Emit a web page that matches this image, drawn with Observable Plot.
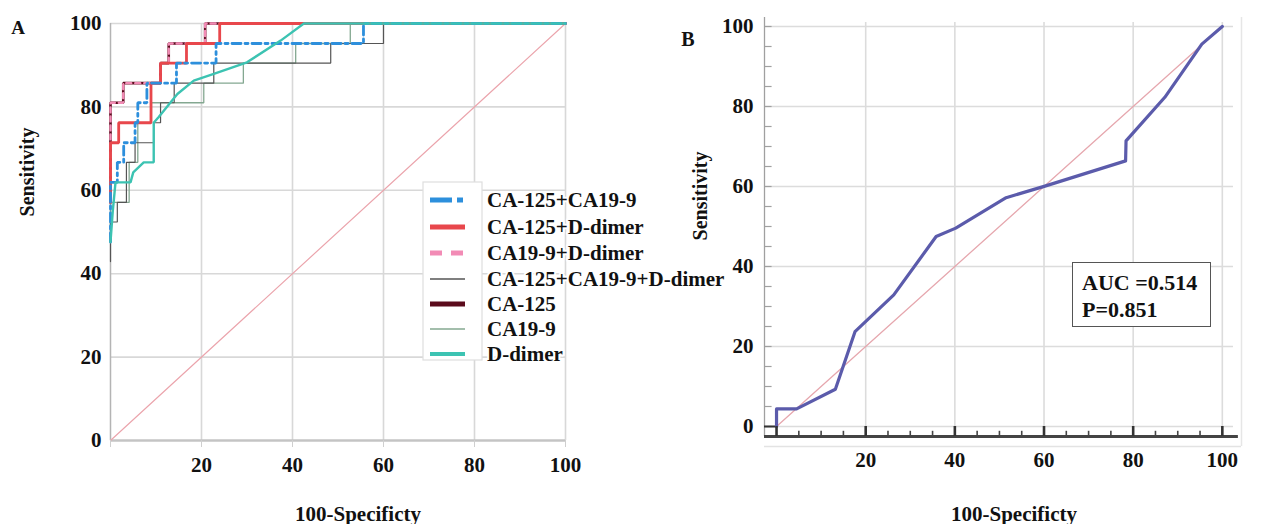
<!DOCTYPE html>
<html><head><meta charset="utf-8">
<script src="https://cdn.jsdelivr.net/npm/d3@7"></script>
<script src="https://cdn.jsdelivr.net/npm/@observablehq/plot@0.6"></script>
<style>
html,body{margin:0;padding:0;background:#fff;}
#wrap{position:relative;width:1269px;height:524px;overflow:hidden;background:#fff;
  font-family:"Liberation Serif","Times New Roman",serif;font-weight:bold;color:#111;}
.abs{position:absolute;white-space:nowrap;line-height:1;}
.rot{transform:translate(-50%,-50%) rotate(-90deg);}
.ctr{transform:translate(-50%,-50%);}
#wrap svg text{font-family:"Liberation Serif","Times New Roman",serif !important;font-weight:bold;}
</style></head><body>
<div id="wrap"></div>
<script>
// ---------- DATA ----------
const seriesNames = ["CA-125+CA19-9","CA-125+D-dimer","CA19-9+D-dimer","CA-125+CA19-9+D-dimer","CA-125","CA19-9","D-dimer"];
// Panel A ROC curves: [100-specificity, sensitivity]
const ca125_ca199 = [[0,47.6],[0,61.9],[1.5,61.9],[1.5,66.7],[2.9,66.7],[2.9,71.4],[5.4,71.4],[5.4,76.2],[6.0,76.2],[6.0,81.0],[8.0,81.0],[8.0,85.7],[14.5,85.7],[14.5,90.5],[23.2,90.5],[23.2,95.2],[55.6,95.2],[55.6,100],[100,100]];
const ca125_ddimer = [[0,57.1],[0,71.4],[1.8,71.4],[1.8,76.2],[8.9,76.2],[8.9,85.7],[11.0,85.7],[11.0,90.5],[16.7,90.5],[16.7,95.2],[24.0,95.2],[24.0,100],[100,100]];
const ca199_ddimer = [[0,57.1],[0,81.0],[2.8,81.0],[2.8,85.7],[11.0,85.7],[11.0,90.5],[12.8,90.5],[12.8,95.2],[20.8,95.2],[20.8,100],[100,100]];
const ca125_ca199_ddimer = [[0,42.9],[0,52.4],[1.5,52.4],[1.5,57.1],[3.5,57.1],[3.5,66.7],[5.4,66.7],[5.4,71.4],[9.5,71.4],[9.5,76.2],[11.0,76.2],[11.0,81.0],[14.0,81.0],[14.0,85.7],[22.7,85.7],[22.7,90.5],[48.4,90.5],[48.4,95.2],[60.0,95.2],[60.0,100],[100,100]];
const ca125 = [[0,57.1],[0,81.0],[2.8,81.0],[2.8,85.7],[11.0,85.7],[11.0,90.5],[12.8,90.5],[12.8,95.2],[20.8,95.2],[20.8,100],[100,100]];
const ca199 = [[0,47.6],[0,57.1],[4.1,57.1],[4.1,66.7],[6.0,66.7],[6.0,76.2],[9.0,76.2],[9.0,81.0],[20.5,81.0],[20.5,85.7],[29.2,85.7],[29.2,90.5],[40.7,90.5],[40.7,95.2],[52.7,95.2],[52.7,100],[100,100]];
const ddimer = [[0,47.6],[0.5,55.0],[1.1,61.9],[4.4,61.9],[5.0,64.3],[7.3,66.7],[9.5,66.7],[9.5,76.2],[10.6,77.6],[14.7,83.1],[18.3,86.3],[22.7,87.9],[30.0,90.7],[37.4,95.9],[42.5,100],[100,100]];
// Panel B ROC curve
const rocB = [[0,0],[0,4.4],[4.5,4.4],[13.2,9.3],[17.6,23.7],[26.3,32.9],[35.8,47.5],[40.2,49.6],[51.5,57.2],[60.2,60.1],[78.3,66.4],[78.4,71.4],[87.1,82.3],[95.4,95.6],[100,100]];
const diagonal = [[0,0],[100,100]];
const tickValues = [0,20,40,60,80,100];
const xTickLabels = [20,40,60,80,100];
const minorTicks = d3.range(0,101,5);
const aucText = ["AUC =0.514","P=0.851"];
const axisTitleX = "100-Specificty", axisTitleY = "Sensitivity";

// ---------- STYLES ----------
const styles = {
  "CA-125+CA19-9": {stroke:"#2d8fdc", strokeWidth:2.8, dash:"9,4,3,4", lw:5, ldash:"22,5,6,5"},
  "CA-125+D-dimer": {stroke:"#e8474c", strokeWidth:2.8, dash:null, lw:5, ldash:null},
  "CA19-9+D-dimer": {stroke:"#f28bb5", strokeWidth:2.4, dash:"5,4", lw:5, ldash:"12,9"},
  "CA-125+CA19-9+D-dimer": {stroke:"#555555", strokeWidth:1.2, dash:null, lw:1.6, ldash:null},
  "CA-125": {stroke:"#5b0b1c", strokeWidth:2.6, dash:null, lw:5, ldash:null},
  "CA19-9": {stroke:"#84a891", strokeWidth:1.3, dash:null, lw:1.6, ldash:null},
  "D-dimer": {stroke:"#3cc3b2", strokeWidth:2.4, dash:null, lw:4, ldash:null}
};
const seriesData = {
  "CA-125+CA19-9": ca125_ca199, "CA-125+D-dimer": ca125_ddimer, "CA19-9+D-dimer": ca199_ddimer,
  "CA-125+CA19-9+D-dimer": ca125_ca199_ddimer, "CA-125": ca125, "CA19-9": ca199, "D-dimer": ddimer
};
const drawOrder = ["CA19-9","CA-125+CA19-9+D-dimer","CA-125","CA19-9+D-dimer","CA-125+D-dimer","CA-125+CA19-9","D-dimer"];

const baseStyle = "background:transparent;overflow:visible;font-family:'Liberation Serif','Times New Roman',serif;font-weight:bold;font-size:21px;color:#111;";
const fontOpts = {fontFamily:"Liberation Serif", fontWeight:"bold", fontSize:21, fill:"#111"};
const wrap = document.getElementById("wrap");

// ---------- PANEL B ----------
const plotB = Plot.plot({
  width:629, height:524, marginLeft:124, marginRight:28, marginTop:17, marginBottom:78,
  x:{domain:[-2.7,104.3]}, y:{domain:[-5,102.25]},
  style: baseStyle,
  marks:[
    Plot.ruleY(tickValues, {x1:-2.7, x2:102.5, stroke:"#dcdcdc", strokeWidth:1.6}),
    Plot.ruleX(xTickLabels, {y1:-2.5, y2:101, stroke:"#dcdcdc", strokeWidth:1.6}),
    Plot.ruleY([-5], {stroke:"#e3e3e3", strokeWidth:1.5}),
    Plot.ruleX([104.3], {stroke:"#e6e6e6", strokeWidth:1.5}),
    Plot.ruleX([-2.7], {y1:-2.5, y2:102.25, stroke:"#a0a0a0", strokeWidth:1.3}),
    Plot.ruleY(minorTicks, {x1:-2.7, x2:-1.0, stroke:"#a0a0a0", strokeWidth:1.2}),
    Plot.ruleY([0], {x1:-2.7, x2:0, stroke:"#333", strokeWidth:2}),
    Plot.line(diagonal, {x:d=>d[0], y:d=>d[1], stroke:"#e6a7ae", strokeWidth:1.3}),
    Plot.line(rocB, {x:d=>d[0], y:d=>d[1], stroke:"#5b5bab", strokeWidth:3.2, strokeLinejoin:"round"}),
    Plot.ruleY([-2.5], {x1:-2.7, x2:103.6, stroke:"#444", strokeWidth:3.2}),
    Plot.ruleX(minorTicks.filter(v=>v%20!==0), {y1:-2.5, y2:-1.2, stroke:"#444", strokeWidth:1.6}),
    Plot.ruleX(tickValues, {y1:-2.5, y2:0, stroke:"#333", strokeWidth:2.6}),
    Plot.axisY(tickValues, {tickSize:0, tickPadding:11, label:null, ...fontOpts}),
    Plot.axisX(xTickLabels, {tickSize:0, tickPadding:6, label:null, ...fontOpts})
  ]
});
const bDiv = document.createElement("div");
bDiv.className = "abs"; bDiv.style.left = "640px"; bDiv.style.top = "0px";
bDiv.appendChild(plotB); wrap.appendChild(bDiv);

// ---------- PANEL A ----------
const marksA = [
  Plot.ruleX(xTickLabels, {stroke:"#d8d8d8", strokeWidth:1.6}),
  Plot.ruleY(xTickLabels, {stroke:"#d8d8d8", strokeWidth:1.6}),
  Plot.ruleX([0], {stroke:"#b4b4b4", strokeWidth:1.5}),
  Plot.ruleY([0], {stroke:"#c4c4c4", strokeWidth:2.6}),
  Plot.line(diagonal, {x:d=>d[0], y:d=>d[1], stroke:"#eba4ac", strokeWidth:1.2})
];
for (const name of drawOrder) {
  const s = styles[name];
  marksA.push(Plot.line(seriesData[name], {x:d=>d[0], y:d=>d[1], stroke:s.stroke, strokeWidth:s.strokeWidth,
    strokeDasharray:s.dash || undefined, strokeLinejoin:"miter"}));
}
marksA.push(Plot.axisX(tickValues, {tickSize:7, tickPadding:0, stroke:"#cfcfcf", tickFormat:()=>"", label:null}));
marksA.push(Plot.axisX(xTickLabels, {tickSize:0, tickPadding:17, label:null, ...fontOpts}));
marksA.push(Plot.axisY(tickValues, {tickSize:0, tickPadding:9, label:null, ...fontOpts}));
const plotA = Plot.plot({
  width:760, height:524, marginLeft:110, marginRight:195, marginTop:23, marginBottom:84,
  x:{domain:[0,100]}, y:{domain:[0,100]},
  style: baseStyle,
  marks: marksA
});
const aDiv = document.createElement("div");
aDiv.className = "abs"; aDiv.style.left = "0px"; aDiv.style.top = "0px";
aDiv.appendChild(plotA); wrap.appendChild(aDiv);

// ---------- LEGEND (panel A) ----------
const leg = d3.create("svg").attr("width", 760).attr("height", 524)
  .style("position","absolute").style("left","0px").style("top","0px").style("overflow","visible");
leg.append("rect").attr("x",423).attr("y",182).attr("width",59).attr("height",178)
  .attr("fill","#fff").attr("stroke","#dedede").attr("stroke-width",1.2);
const rowY = [200,227,253,279,304,329,354];
seriesNames.forEach((name,i)=>{
  const s = styles[name];
  leg.append("line").attr("x1",430).attr("x2",465).attr("y1",rowY[i]).attr("y2",rowY[i])
    .attr("stroke",s.stroke).attr("stroke-width",s.lw).attr("stroke-linecap","butt")
    .attr("stroke-dasharray", s.ldash);
  leg.append("text").attr("x",487).attr("y",rowY[i]).attr("dy","0.35em")
    .attr("font-family","'Liberation Serif','Times New Roman',serif").attr("font-weight","bold")
    .attr("font-size","21px").attr("fill","#111")
    .attr("stroke","#fff").attr("stroke-width",4).attr("paint-order","stroke").attr("stroke-linejoin","round")
    .text(name);
});
wrap.appendChild(leg.node());

// ---------- TEXT LABELS ----------
function addLabel(text, x, y, cls, size) {
  const d = document.createElement("div");
  d.className = "abs " + cls; d.style.left = x + "px"; d.style.top = y + "px";
  d.style.fontSize = size + "px"; d.textContent = text; wrap.appendChild(d);
}
addLabel("A", 18, 27, "ctr", 19);
addLabel("B", 688, 39, "ctr", 20);
addLabel(axisTitleY, 27, 172, "rot", 20);
addLabel(axisTitleX, 358, 514, "ctr", 21);
addLabel(axisTitleY, 700, 196, "rot", 20);
addLabel(axisTitleX, 1014, 514, "ctr", 21);

// AUC box
const box = document.createElement("div");
box.className = "abs";
Object.assign(box.style, {left:"1072px", top:"262px", width:"139px", height:"65px", border:"1.6px solid #555",
  background:"#fff", fontSize:"22px", lineHeight:"27px", padding:"6px 0 0 9px", boxSizing:"border-box"});
box.innerHTML = aucText.map(t=>`<div>${t}</div>`).join("");
wrap.appendChild(box);
</script>
</body></html>
